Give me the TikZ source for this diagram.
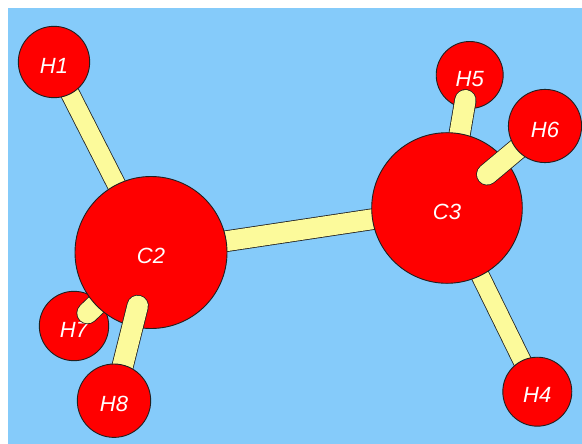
\documentclass[tikz,border=0pt]{standalone}
\usepackage{fontspec}
\setmainfont{Liberation Sans}
\usetikzlibrary{calc}
\pgfdeclarelayer{sky}
\pgfdeclarelayer{faratoms}
\pgfdeclarelayer{farbonds}
\pgfdeclarelayer{carbons}
\pgfdeclarelayer{nearbonds}
\pgfsetlayers{sky,faratoms,farbonds,carbons,nearbonds,main}
\definecolor{skyback}{HTML}{85CBFA}
\definecolor{bondfill}{HTML}{FCFA9B}
\definecolor{atomline}{HTML}{202020}
\newcommand{\atomtext}[1]{\raisebox{-11.2pt}[0pt][0pt]{#1}}
\tikzset{
  atom/.style={circle,draw=atomline,fill=red,line width=0.9pt,inner sep=0pt,outer sep=0pt,
    minimum size=#1,text=white,font=\fontsize{22pt}{22pt}\selectfont\itshape},
  bond/.style={draw=atomline,double=bondfill,line width=0.8pt,double distance=#1,line cap=round},
  flatbond/.style={bond=#1,line cap=butt}
}
\begin{document}
\begin{tikzpicture}[x=1pt,y=-1pt]
\useasboundingbox (0,0) rectangle (582,444);
\begin{pgfonlayer}{sky}
  \fill[skyback] (8,8) rectangle (582,444);
\end{pgfonlayer}
\begin{pgfonlayer}{faratoms}
  \node[atom=67pt] (h5) at (469.7,75) {\atomtext{H5}};
  \node[atom=69.4pt] (h7) at (74,326) {\atomtext{H7}};
\end{pgfonlayer}
\begin{pgfonlayer}{carbons}
  \node[atom=152pt] (c2) at (151,252.5) {\atomtext{C2}};
  \node[atom=150.6pt] (c3) at (447,208) {\atomtext{C3}};
\end{pgfonlayer}
\node[atom=71.4pt] (h1) at (54,62) {\atomtext{H1}};
\node[atom=69pt] (h4) at (537.3,391.7) {\atomtext{H4}};
\node[atom=73.4pt] (h8) at (114,400.7) {\atomtext{H8}};
\node[atom=73.2pt] (h6) at (545,126) {\atomtext{H6}};
\coordinate (h7end) at ($(h7.center)!0.175!(c2.center)$);
\coordinate (h5end) at ($(h5.center)!0.19!(c3.center)$);
\coordinate (h8end) at ($(h8.center)!0.64!(c2.center)$);
\coordinate (h6end) at ($(h6.center)!0.59!(c3.center)$);
\begin{pgfonlayer}{farbonds}
  \draw[flatbond=18pt] (h1.center) -- (c2.center);
  \draw[flatbond=17.5pt] (h4.center) -- (c3.center);
  \draw[flatbond=20pt] (c2.center) -- (c3.center);
  \draw[bond=20.5pt] (h7end) -- (c2.center);
  \draw[bond=20.5pt] (h5end) -- (c3.center);
\end{pgfonlayer}
\begin{pgfonlayer}{nearbonds}
  \draw[bond=20.5pt] (h8.center) -- (h8end);
  \draw[bond=20.5pt] (h6.center) -- (h6end);
\end{pgfonlayer}
\end{tikzpicture}
\end{document}
